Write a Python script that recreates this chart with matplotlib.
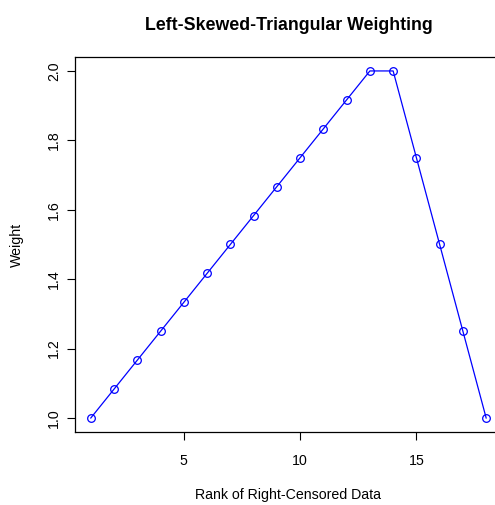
import matplotlib
matplotlib.use("Agg")
import matplotlib.pyplot as plt

plt.rcParams['font.family'] = ['Liberation Sans', 'DejaVu Sans']

# rank and weight of the left-skewed triangular scheme
rank = list(range(1, 19))
weight = [1.0, 1.0833, 1.1667, 1.25, 1.3333, 1.4167, 1.5, 1.5833, 1.6667,
          1.75, 1.8333, 1.9167, 2.0, 2.0, 1.75, 1.5, 1.25, 1.0]
xticks = [5, 10, 15]
yticks = [1.0, 1.2, 1.4, 1.6, 1.8, 2.0]

fig = plt.figure(figsize=(4.95, 5.05), dpi=100)
ax = fig.add_axes([0.1515, 0.1448, 0.8626, 0.7422])

ax.plot(rank, weight, color='blue', linewidth=0.9, marker='o', markersize=5.5,
        markerfacecolor='none', markeredgecolor='blue', markeredgewidth=0.9)

ax.set_xlim(0.32, 18.68)
ax.set_ylim(0.96, 2.04)
ax.set_xticks(xticks)
ax.set_xticklabels([str(t) for t in xticks])
ax.set_yticks(yticks)
ax.set_yticklabels([f"{t:.1f}" for t in yticks], rotation=90, va='center')
ax.tick_params(direction='out', length=6, width=0.8, labelsize=10.2)
ax.tick_params(axis='x', pad=10)
ax.tick_params(axis='y', pad=4)
for s in ax.spines.values():
    s.set_linewidth(0.9)

ax.set_title("Left-Skewed-Triangular Weighting", fontsize=12.8, fontweight='bold', pad=19.5)
ax.set_xlabel("Rank of Right-Censored Data", fontsize=10.2, labelpad=14)
ax.set_ylabel("Weight", fontsize=10.2, labelpad=17)

fig.savefig("out.png", dpi=100)
